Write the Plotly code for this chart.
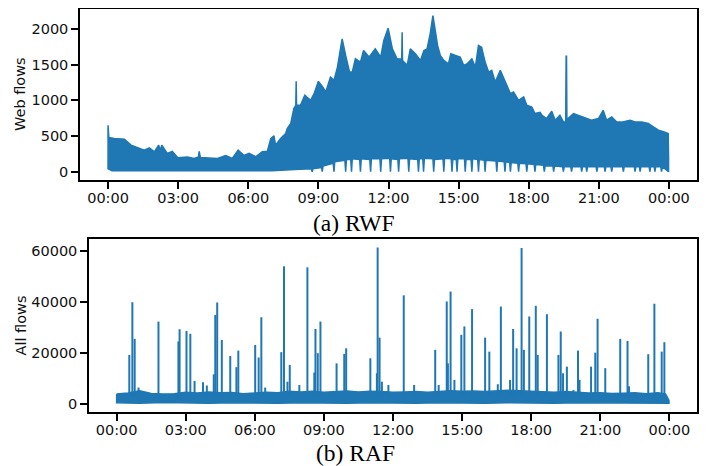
import pandas as pd
import plotly.graph_objects as go

DAY = "2020-01-01"
BLUE = "#1f77b4"

# (a) RWF - upper edge of the dense web-flow band
web_hi_time = ["00:00", "00:02", "00:16", "00:34", "00:42", "00:59", "01:16", "01:33", "01:46", "01:59",
               "02:10", "02:14", "02:18", "02:32", "02:45", "02:59", "03:24", "03:41", "03:52", "03:54",
               "03:57", "04:15", "04:41", "05:02", "05:19", "05:34", "05:49", "06:02", "06:19", "06:36",
               "06:49", "06:58", "07:06", "07:10", "07:23", "07:36", "07:40", "07:49", "07:57", "08:02",
               "08:03", "08:04", "08:14", "08:25", "08:30", "08:40", "08:49", "09:00", "09:11", "09:19",
               "09:31", "09:40", "09:49", "10:01", "10:10", "10:20", "10:27", "10:35", "10:48", "10:56",
               "11:10", "11:26", "11:40", "11:48", "11:59", "12:10", "12:18", "12:22", "12:34", "12:35",
               "12:36", "12:48", "12:56", "13:09", "13:22", "13:31", "13:39", "13:47", "13:54", "14:00",
               "14:06", "14:13", "14:22", "14:34", "14:40", "14:52", "15:04", "15:13", "15:22", "15:34",
               "15:43", "15:51", "15:59", "16:08", "16:17", "16:25", "16:34", "16:47", "16:59", "17:13",
               "17:21", "17:34", "17:47", "17:55", "18:08", "18:16", "18:29", "18:34", "18:46", "18:59",
               "19:08", "19:20", "19:29", "19:35", "19:36", "19:37", "19:38", "19:41", "19:55", "20:07",
               "20:25", "20:41", "20:59", "21:11", "21:20", "21:33", "21:46", "22:02", "22:20", "22:33",
               "22:50", "23:07", "23:20", "23:33", "23:46", "23:58", "23:59"]
web_hi_val = [652, 480, 466, 456, 454, 373, 335, 303, 335, 280,
              373, 300, 373, 257, 286, 196, 205, 187, 205, 286,
              200, 196, 187, 228, 187, 303, 228, 257, 210, 280,
              286, 466, 503, 373, 466, 536, 606, 675, 885, 931,
              1266, 931, 931, 1071, 1048, 1001, 1094, 1266, 1187, 1117,
              1326, 1280, 1466, 1862, 1629, 1396, 1396, 1583, 1536, 1699,
              1606, 1722, 1606, 1839, 2010, 1722, 1629, 1583, 1580, 1955,
              1560, 1490, 1722, 1653, 1559, 1699, 1722, 1932, 2187, 2002,
              1769, 1629, 1559, 1513, 1653, 1629, 1606, 1490, 1513, 1583,
              1466, 1769, 1745, 1536, 1396, 1420, 1257, 1420, 1257, 1094,
              1117, 1001, 1048, 931, 907, 815, 833, 791, 745, 847,
              722, 791, 698, 698, 1619, 1619, 700, 745, 815, 791,
              745, 722, 745, 861, 722, 768, 698, 698, 722, 698,
              698, 675, 628, 582, 559, 536, 210]

# (a) RWF - lower edge of the band (with the narrow drops to zero)
web_lo_time = ["00:00", "00:10", "07:00", "08:00", "08:42", "08:44", "08:46", "09:08", "09:10", "09:12",
               "09:38", "09:40", "09:42", "10:08", "10:10", "10:12", "10:23", "10:25", "10:27", "10:46",
               "10:48", "10:50", "11:12", "11:14", "11:16", "11:38", "11:40", "11:42", "12:03", "12:05",
               "12:07", "12:24", "12:26", "12:28", "12:50", "12:52", "12:54", "13:15", "13:17", "13:19",
               "13:28", "13:30", "13:32", "13:54", "13:56", "13:58", "14:20", "14:22", "14:24", "14:41",
               "14:43", "14:45", "14:54", "14:56", "14:58", "15:15", "15:17", "15:19", "15:32", "15:34",
               "15:36", "15:49", "15:51", "15:53", "16:06", "16:08", "16:10", "16:36", "16:38", "16:40",
               "16:57", "16:59", "17:01", "17:11", "17:13", "17:15", "17:32", "17:34", "17:36", "17:53",
               "17:55", "17:57", "18:14", "18:16", "18:18", "18:38", "18:40", "18:42", "19:02", "19:04",
               "19:06", "19:27", "19:29", "19:31", "19:48", "19:50", "19:52", "20:14", "20:16", "20:18",
               "20:27", "20:29", "20:31", "20:53", "20:55", "20:57", "21:14", "21:16", "21:18", "21:31",
               "21:33", "21:35", "22:01", "22:03", "22:05", "22:31", "22:33", "22:35", "22:44", "22:46",
               "22:48", "23:09", "23:11", "23:13", "23:22", "23:24", "23:26", "23:39", "23:41", "23:43",
               "23:59"]
web_lo_val = [40, 15, 15, 30, 40, 0, 40, 60, 0, 80,
              120, 0, 140, 160, 0, 170, 170, 0, 180, 170,
              0, 180, 170, 0, 180, 180, 0, 180, 190, 0,
              180, 170, 0, 180, 190, 0, 180, 170, 0, 180,
              180, 0, 190, 180, 0, 170, 180, 0, 190, 180,
              0, 170, 170, 0, 180, 180, 0, 170, 170, 0,
              180, 170, 0, 170, 160, 0, 160, 150, 0, 150,
              140, 0, 140, 130, 0, 130, 120, 0, 120, 110,
              0, 110, 100, 0, 100, 90, 0, 80, 80, 0,
              80, 70, 0, 70, 70, 0, 70, 70, 0, 70,
              70, 0, 70, 70, 0, 70, 70, 0, 70, 70,
              0, 70, 70, 0, 70, 70, 0, 70, 70, 0,
              70, 70, 0, 70, 70, 0, 70, 70, 0, 70,
              0]

# (b) RAF - base band of all flows
all_hi_time = ["00:00", "00:30", "01:00", "01:30", "02:00", "02:30", "03:00", "03:30", "04:00", "04:30",
               "05:00", "05:30", "06:00", "06:30", "07:00", "07:30", "08:00", "08:30", "09:00", "09:30",
               "10:00", "10:30", "11:00", "11:30", "12:00", "12:30", "13:00", "13:30", "14:00", "14:30",
               "15:00", "15:30", "16:00", "16:30", "17:00", "17:30", "18:00", "18:30", "19:00", "19:30",
               "20:00", "20:30", "21:00", "21:30", "22:00", "22:30", "23:00", "23:30", "23:50", "23:59"]
all_hi_val = [3800, 4200, 5000, 4000, 3800, 3900, 4500, 4200, 4600, 4300,
              4400, 3900, 4200, 4500, 4300, 4800, 4600, 4800, 4500, 4700,
              4900, 4600, 4800, 4700, 4500, 4600, 4700, 4500, 4800, 5000,
              4800, 4900, 4700, 4900, 5200, 5000, 4800, 4600, 4500, 4700,
              4400, 4200, 4300, 4000, 4100, 4300, 3900, 4300, 3800, 1200]
all_lo_time = ["00:00", "01:00", "02:00", "03:00", "04:00", "05:00", "06:00", "07:00", "08:00", "09:00",
               "10:00", "11:00", "12:00", "13:00", "14:00", "15:00", "16:00", "17:00", "18:00", "19:00",
               "20:00", "21:00", "22:00", "23:00", "23:59"]
all_lo_val = [300, 100, 400, 200, 100, 300, 200, 100, 300, 200,
              100, 300, 200, 100, 300, 200, 100, 300, 200, 100,
              300, 200, 100, 200, 100]

# (b) RAF - bursts
spike_time = ["00:33", "00:41", "00:47", "00:57", "01:49", "02:41", "02:44", "03:02", "03:12", "03:23",
              "03:45", "03:55", "04:13", "04:17", "04:22", "04:34", "04:56", "05:12", "05:17", "06:01",
              "06:10", "06:17", "06:27", "07:09", "07:16", "07:25", "07:31", "07:56", "08:17", "08:35",
              "08:38", "08:44", "08:51", "09:33", "09:53", "09:58", "11:01", "11:18", "11:20", "11:25",
              "11:31", "11:48", "12:28", "12:55", "13:50", "13:59", "14:20", "14:23", "14:30", "14:40",
              "14:58", "15:06", "15:26", "16:00", "16:11", "16:33", "16:41", "17:05", "17:13", "17:22",
              "17:35", "17:41", "17:55", "18:12", "18:17", "18:41", "19:11", "19:17", "19:23", "19:33",
              "19:50", "20:02", "20:06", "20:36", "20:47", "20:53", "21:13", "21:52", "22:11", "22:15",
              "23:05", "23:21", "23:40", "23:47"]
spike_val = [19100, 39800, 25400, 6300, 32200, 24400, 29200, 28500, 27400, 8900,
             8400, 7100, 11500, 34800, 39700, 25000, 18700, 14300, 20800, 23000,
             18100, 33900, 6300, 20200, 53900, 8600, 15200, 7300, 53500, 12200,
             29300, 19800, 32200, 15800, 19500, 21700, 17800, 11900, 61300, 25900,
             8600, 7300, 42500, 7300, 21100, 7300, 40100, 15800, 44000, 9300,
             27000, 30300, 37100, 25900, 20400, 7600, 38100, 9300, 29300, 21700,
             61100, 21100, 34200, 38400, 19100, 35100, 19100, 28300, 11900, 14500,
             5300, 20800, 9300, 14500, 20000, 33300, 13900, 25400, 24600, 6800,
             19400, 39200, 20400, 24100]


def to_dt(times):
    return list(pd.to_datetime([f"{DAY} {t}" for t in times]))


def band(hi_t, hi_v, lo_t, lo_v, xa, ya):
    x = to_dt(hi_t) + to_dt(lo_t)[::-1]
    y = list(hi_v) + list(lo_v)[::-1]
    return go.Scatter(x=x + x[:1], y=y + y[:1], mode="lines", fill="toself",
                      fillcolor=BLUE, line=dict(color=BLUE, width=1.5),
                      xaxis=xa, yaxis=ya, hoverinfo="skip")


fig = go.Figure()
fig.add_trace(band(web_hi_time, web_hi_val, web_lo_time, web_lo_val, "x", "y"))
fig.add_trace(band(all_hi_time, all_hi_val, all_lo_time, all_lo_val, "x2", "y2"))

sx, sy = [], []
for t, v in zip(to_dt(spike_time), spike_val):
    sx += [t, t, None]
    sy += [3000, v, None]
fig.add_trace(go.Scatter(x=sx, y=sy, mode="lines", line=dict(color=BLUE, width=2),
                         xaxis="x2", yaxis="y2", hoverinfo="skip"))

# the page body adds an 8px margin, so everything is laid out 8px up/left
OFF = 8
W, H = 717, 466
L, R, T, B = 80 - OFF, 697 - OFF, 9 - OFF, 412 - OFF  # plot area in figure pixels


def px(xp):
    return (xp - OFF - L) / (R - L)


def py(yp):
    return (B - (yp - OFF)) / (B - T)


day0 = pd.Timestamp(f"{DAY} 00:00")
xr = [day0 - pd.Timedelta(hours=1.2), day0 + pd.Timedelta(hours=25.2)]
tickfont = dict(family="DejaVu Sans", size=14.5, color="#111")

common_x = dict(type="date", range=xr, tickformat="%H:%M", dtick=3 * 3600 * 1000, tick0=day0,
                ticks="outside", ticklen=7, tickwidth=1.5, tickcolor="black",
                showline=True, mirror=True, linecolor="black", linewidth=1.5,
                showgrid=False, zeroline=False, tickfont=tickfont, automargin=False,
                ticklabelstandoff=-3)
common_y = dict(ticks="outside", ticklen=7, tickwidth=1.5, tickcolor="black",
                showline=True, mirror=True, linecolor="black", linewidth=1.5,
                showgrid=False, zeroline=False, tickfont=tickfont, tickformat="d",
                automargin=False)

fig.update_layout(
    width=W, height=H,
    margin=dict(l=L, r=W - R, t=T, b=H - B),
    paper_bgcolor="white", plot_bgcolor="white",
    showlegend=False,
    xaxis=dict(common_x, domain=[0, 1], anchor="y"),
    yaxis=dict(common_y, domain=[py(180), 1], anchor="x",
               range=[-116, 2280], tickvals=[0, 500, 1000, 1500, 2000]),
    xaxis2=dict(common_x, domain=[px(89), 1], anchor="y2"),
    yaxis2=dict(common_y, domain=[0, py(239.3)], anchor="x2",
                range=[-3300, 64500], tickvals=[0, 20000, 40000, 60000]),
)

label_font = dict(family="DejaVu Sans", size=14.5, color="#111")
cap_font = dict(family="Liberation Serif", size=23.5, color="black")
for txt, yy in [("Web flows", 94), ("All flows", 325.5)]:
    fig.add_annotation(text=txt, x=px(20), y=py(yy), xref="paper", yref="paper",
                       xanchor="center", yanchor="middle",
                       textangle=-90, showarrow=False, font=label_font)
for txt, xx, yy in [("(a) RWF", 354, 223), ("(b) RAF", 355, 453)]:
    fig.add_annotation(text=txt, x=px(xx), y=py(yy), xref="paper", yref="paper",
                       xanchor="center", yanchor="middle",
                       showarrow=False, font=cap_font)

fig.write_html("out.html")
